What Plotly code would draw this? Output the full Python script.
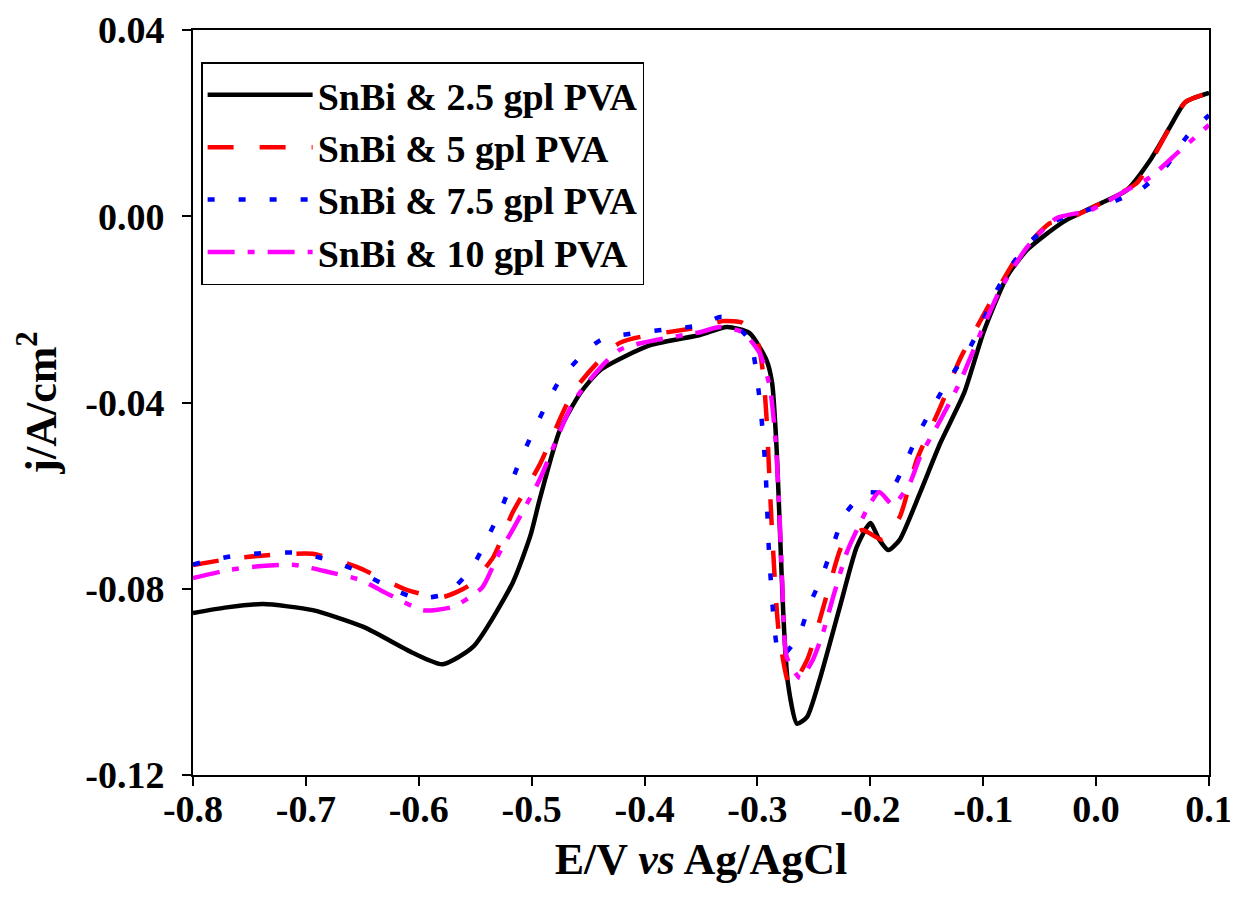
import plotly.graph_objects as go

# ---- data ----
E_25 = [-0.800,-0.770,-0.738,-0.694,-0.649,-0.605,-0.579,-0.552,-0.517,-0.501,-0.493,-0.475,-0.457,-0.439,-0.395,-0.351,-0.327,-0.307,-0.292,-0.287,-0.283,-0.280,-0.277,-0.273,-0.265,-0.256,-0.245,-0.227,-0.212,-0.200,-0.192,-0.184,-0.174,-0.156,-0.138,-0.117,-0.100,-0.079,-0.061,-0.029,0.006,0.027,0.048,0.065,0.079,0.100]
j_25 = [-0.0852,-0.0840,-0.0833,-0.0846,-0.0882,-0.0938,-0.0962,-0.0925,-0.0788,-0.0685,-0.0609,-0.0459,-0.0380,-0.0330,-0.0277,-0.0255,-0.0238,-0.0251,-0.0309,-0.0358,-0.0500,-0.0680,-0.0860,-0.1003,-0.1090,-0.1075,-0.0996,-0.0839,-0.0710,-0.0659,-0.0695,-0.0717,-0.0695,-0.0594,-0.0487,-0.0380,-0.0251,-0.0130,-0.0072,-0.0012,0.0030,0.0056,0.0121,0.0190,0.0245,0.0265]

E_5 = [-0.800,-0.765,-0.734,-0.694,-0.655,-0.610,-0.579,-0.555,-0.534,-0.517,-0.493,-0.462,-0.422,-0.351,-0.330,-0.313,-0.300,-0.295,-0.292,-0.287,-0.281,-0.271,-0.256,-0.238,-0.224,-0.207,-0.189,-0.174,-0.159,-0.138,-0.121,-0.097,-0.070,-0.041,-0.029,0.006,0.036,0.048,0.065,0.079,0.100]
j_5 = [-0.0749,-0.0735,-0.0728,-0.0725,-0.0753,-0.0803,-0.0818,-0.0792,-0.0732,-0.0637,-0.0534,-0.0373,-0.0272,-0.0238,-0.0225,-0.0229,-0.0270,-0.0337,-0.0431,-0.0680,-0.0895,-0.1010,-0.0953,-0.0809,-0.0702,-0.0674,-0.0695,-0.0646,-0.0524,-0.0410,-0.0309,-0.0200,-0.0088,-0.0015,-0.0010,0.0030,0.0071,0.0115,0.0190,0.0245,0.0265]

E_75 = [-0.800,-0.792,-0.765,-0.736,-0.708,-0.680,-0.652,-0.627,-0.602,-0.575,-0.553,-0.540,-0.528,-0.510,-0.475,-0.439,-0.351,-0.331,-0.307,-0.298,-0.293,-0.289,-0.280,-0.264,-0.254,-0.243,-0.233,-0.223,-0.205,-0.183,-0.169,-0.158,-0.131,-0.114,-0.101,-0.091,-0.076,-0.057,-0.038,0.014,0.041,0.063,0.080,0.100]
j_75 = [-0.0748,-0.0743,-0.0730,-0.0723,-0.0723,-0.0738,-0.0764,-0.0796,-0.0820,-0.0810,-0.0755,-0.0695,-0.0635,-0.0523,-0.0352,-0.0266,-0.0234,-0.0216,-0.0266,-0.0395,-0.0539,-0.0753,-0.0947,-0.0904,-0.0835,-0.0775,-0.0706,-0.0642,-0.0594,-0.0592,-0.0530,-0.0470,-0.0352,-0.0292,-0.0229,-0.0173,-0.0109,-0.0052,-0.0012,0.0030,0.0060,0.0110,0.0170,0.0217]

E_10 = [-0.800,-0.769,-0.739,-0.710,-0.680,-0.652,-0.626,-0.596,-0.570,-0.544,-0.531,-0.517,-0.493,-0.462,-0.422,-0.351,-0.333,-0.313,-0.298,-0.289,-0.284,-0.281,-0.278,-0.274,-0.262,-0.251,-0.242,-0.233,-0.221,-0.212,-0.200,-0.192,-0.180,-0.165,-0.156,-0.138,-0.121,-0.100,-0.085,-0.061,-0.035,-0.005,0.027,0.048,0.072,0.100]
j_10 = [-0.0777,-0.0760,-0.0751,-0.0749,-0.0764,-0.0781,-0.0813,-0.0846,-0.0839,-0.0798,-0.0734,-0.0674,-0.0566,-0.0395,-0.0287,-0.0249,-0.0238,-0.0249,-0.0294,-0.0367,-0.0480,-0.0609,-0.0788,-0.0947,-0.0992,-0.0953,-0.0895,-0.0818,-0.0723,-0.0674,-0.0616,-0.0592,-0.0620,-0.0573,-0.0517,-0.0438,-0.0358,-0.0238,-0.0158,-0.0066,-0.0004,0.0013,0.0056,0.0084,0.0136,0.0196]

names = ["SnBi & 2.5 gpl PVA", "SnBi & 5 gpl PVA", "SnBi & 7.5 gpl PVA", "SnBi & 10 gpl PVA"]
x_ticks = [-0.8, -0.7, -0.6, -0.5, -0.4, -0.3, -0.2, -0.1, 0.0, 0.1]
x_ticklabels = ["-0.8", "-0.7", "-0.6", "-0.5", "-0.4", "-0.3", "-0.2", "-0.1", "0.0", "0.1"]
y_ticks = [-0.12, -0.08, -0.04, 0.00, 0.04]
y_ticklabels = ["-0.12", "-0.08", "-0.04", "0.00", "0.04"]

series = [(E_25, j_25), (E_5, j_5), (E_75, j_75), (E_10, j_10)]
styles = [
    dict(color="#000000", dash="solid"),
    dict(color="#ff0000", dash="26px,26px"),
    dict(color="#0000ff", dash="7px,24px"),
    dict(color="#ff00ff", dash="27px,13px,7px,13px"),
]

FONT = "Liberation Serif"
fig = go.Figure()
for (E, j), name, st in zip(series, names, styles):
    fig.add_trace(go.Scatter(
        x=E, y=j, mode="lines", name=name,
        line=dict(color=st["color"], dash=st["dash"], width=4.5, shape="spline", smoothing=0.6),
    ))

axis_common = dict(
    showline=True, linecolor="black", linewidth=2, mirror=True,
    ticks="outside", ticklen=9, tickwidth=2, tickcolor="black",
    showgrid=False, zeroline=False, automargin=False,
    tickfont=dict(family=FONT, size=38, color="black", weight="bold"),
)

fig.update_layout(
    width=1238, height=899,
    margin=dict(l=185, r=37, t=22, b=132),
    paper_bgcolor="white", plot_bgcolor="white",
    font=dict(family=FONT, color="black"),
    xaxis=dict(range=[-0.8, 0.1], tickmode="array", tickvals=x_ticks, ticktext=x_ticklabels,
               ticklabelstandoff=-10,
               title=dict(text="<b>E/V <i>vs</i> Ag/AgCl</b>",
                          font=dict(family=FONT, size=44, color="black")),
               **axis_common),
    yaxis=dict(range=[-0.12, 0.04], tickmode="array", tickvals=y_ticks, ticktext=y_ticklabels,
               ticklabelstandoff=10,
               title=dict(text="<b>j/A/cm<sup>2</sup></b>",
                          font=dict(family=FONT, size=44, color="black")),
               **axis_common),
    legend=dict(x=0.008, y=0.957, xanchor="left", yanchor="top",
                bgcolor="white", bordercolor="black", borderwidth=1.5,
                font=dict(family=FONT, size=38, color="black", weight="bold"),
                itemwidth=105, tracegroupgap=0),
    showlegend=True,
)

fig.write_html("out.html")
